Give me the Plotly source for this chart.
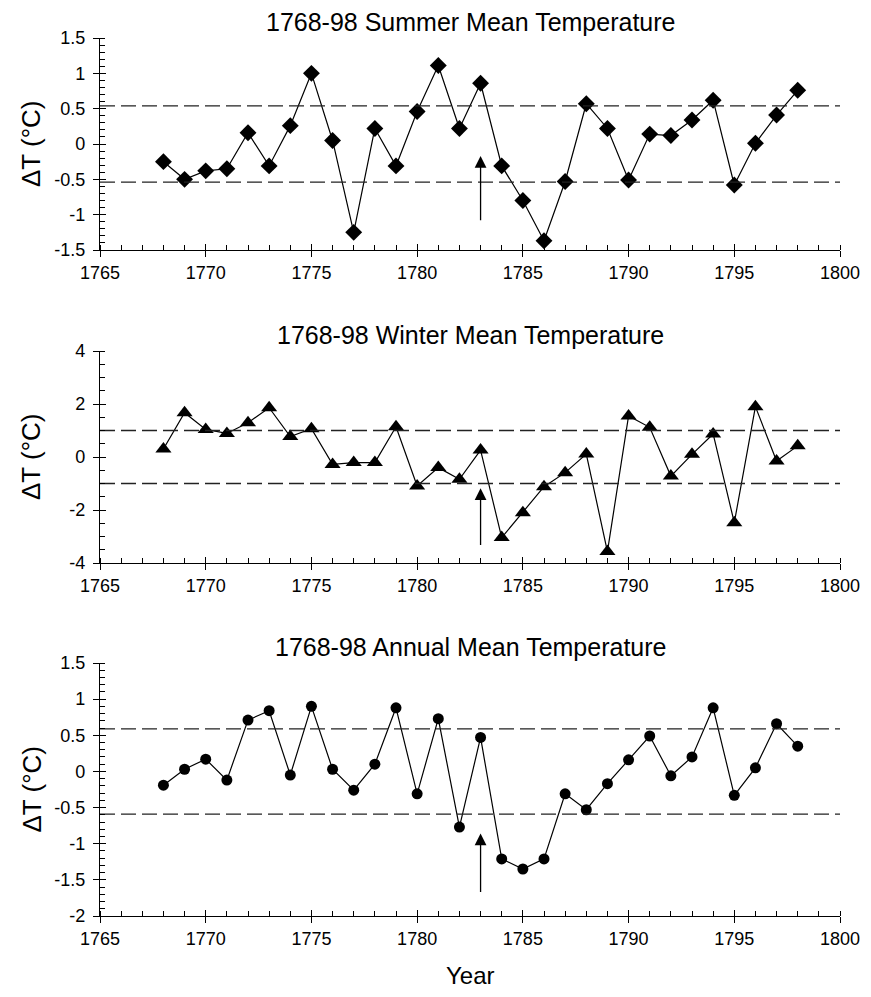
import plotly.graph_objects as go

years = list(range(1768, 1799))

summer = [-0.25, -0.5, -0.38, -0.35, 0.16, -0.31, 0.26, 1.0, 0.05, -1.25,
          0.22, -0.31, 0.46, 1.11, 0.22, 0.86, -0.31, -0.80, -1.37, -0.53,
          0.57, 0.22, -0.51, 0.14, 0.12, 0.34, 0.62, -0.58, 0.01, 0.41, 0.76]
winter = [0.3, 1.67, 1.04, 0.89, 1.29, 1.86, 0.77, 1.07, -0.28, -0.21,
          -0.21, 1.14, -1.09, -0.40, -0.84, 0.26, -3.04, -2.10, -1.12, -0.59,
          0.11, -3.57, 1.55, 1.12, -0.72, 0.10, 0.87, -2.48, 1.90, -0.15, 0.42]
annual = [-0.19, 0.03, 0.17, -0.12, 0.71, 0.84, -0.05, 0.90, 0.03, -0.26,
          0.10, 0.88, -0.31, 0.73, -0.77, 0.47, -1.21, -1.35, -1.21, -0.31,
          -0.53, -0.17, 0.16, 0.49, -0.06, 0.20, 0.88, -0.33, 0.05, 0.66, 0.35]

titles = ["1768-98 Summer Mean Temperature",
          "1768-98 Winter Mean Temperature",
          "1768-98 Annual Mean Temperature"]
thresholds = [0.54, 1.0, 0.59]
arrow_year = 1783
arrow_tip = [-0.17, -1.18, -0.86]
arrow_tail = [-1.1, -3.38, -1.69]

x_range = [1765, 1800]
x_ticks = [1765, 1770, 1775, 1780, 1785, 1790, 1795, 1800]
x_ticktext = ["1765", "1770", "1775", "1780", "1785", "1790", "1795", "1800"]

y_ranges = [[-1.5, 1.5], [-4, 4], [-2, 1.5]]
y_ticks = [[-1.5, -1, -0.5, 0, 0.5, 1, 1.5],
           [-4, -2, 0, 2, 4],
           [-2, -1.5, -1, -0.5, 0, 0.5, 1, 1.5]]
y_ticktext = [["-1.5", "-1", "-0.5", "0", "0.5", "1", "1.5"],
              ["-4", "-2", "0", "2", "4"],
              ["-2", "-1.5", "-1", "-0.5", "0", "0.5", "1", "1.5"]]
y_minor = [0.1, 0.5, 0.1]

series = [summer, winter, annual]
symbols = ["diamond", "triangle-up", "circle"]
msizes = [13, 14, 11]

# page offset from default body margin
OFF = 8
W, H = 871 - OFF, 997 - OFF
ML, MR = 100 - OFF, 31
MT = 38 - OFF
MB = H - (916 - OFF)
ph = H - MT - MB
px_domains = [(38, 250), (351, 563), (663, 916)]
domains = [[1 - (b - OFF - MT) / ph, 1 - (t - OFF - MT) / ph] for t, b in px_domains]
pw = W - ML - MR

FONT = "Liberation Sans, Arial, Helvetica, sans-serif"

fig = go.Figure()
layout = dict(
    width=W, height=H,
    margin=dict(l=ML, r=MR, t=MT, b=MB, autoexpand=False),
    paper_bgcolor="white", plot_bgcolor="white",
    showlegend=False,
    font=dict(family=FONT, size=18, color="black"),
)
annotations = []

for i in range(3):
    n = i + 1
    no = i + 4
    xa = "x" if n == 1 else f"x{n}"
    ya = "y" if n == 1 else f"y{n}"
    xo, yo = f"x{no}", f"y{no}"
    for s in (1, -1):
        fig.add_trace(go.Scatter(
            x=x_range, y=[s * thresholds[i]] * 2, xaxis=xo, yaxis=yo,
            mode="lines", line=dict(color="#222", width=1.3, dash="15px,6px"),
            hoverinfo="skip"))
    fig.add_trace(go.Scatter(
        x=years, y=series[i], xaxis=xa, yaxis=ya,
        mode="lines+markers",
        line=dict(color="black", width=1.2),
        marker=dict(symbol=symbols[i], size=msizes[i], color="black")))

    common_x = dict(range=x_range, tickvals=x_ticks, ticktext=x_ticktext,
                    showgrid=False, zeroline=False, fixedrange=True)
    common_y = dict(range=y_ranges[i], tickvals=y_ticks[i], ticktext=y_ticktext[i],
                    showgrid=False, zeroline=False, fixedrange=True)
    layout[f"xaxis{'' if n == 1 else n}"] = dict(
        **common_x, anchor=ya, domain=[0, 1],
        showline=True, linecolor="black", linewidth=1.3,
        ticks="outside", ticklen=6, tickwidth=1.3, tickcolor="black",
        tickfont=dict(size=18, family=FONT, color="black"),
        minor=dict(dtick=1, ticks="inside", ticklen=5, tickwidth=1.1,
                   tickcolor="black", showgrid=False))
    layout[f"yaxis{'' if n == 1 else n}"] = dict(
        **common_y, anchor=xa, domain=domains[i],
        showline=True, linecolor="black", linewidth=1.3,
        ticks="outside", ticklen=6, tickwidth=1.3, tickcolor="black",
        ticklabelstandoff=4,
        tickfont=dict(size=18, family=FONT, color="black"),
        minor=dict(dtick=y_minor[i], ticks="inside", ticklen=5, tickwidth=1.1,
                   tickcolor="black", showgrid=False))
    layout[f"xaxis{no}"] = dict(
        **common_x, overlaying=xa, anchor=yo,
        showline=False, showticklabels=False,
        ticks="inside", ticklen=6, tickwidth=1.3, tickcolor="black")
    layout[f"yaxis{no}"] = dict(
        **common_y, overlaying=ya, anchor=xo,
        showline=False, showticklabels=False,
        ticks="inside", ticklen=6, tickwidth=1.3, tickcolor="black")

    annotations.append(dict(
        text=titles[i], xref="paper", yref="paper", x=0.5, y=domains[i][1],
        xanchor="center", yanchor="bottom", yshift=0, showarrow=False,
        font=dict(size=25, family=FONT, color="black")))
    annotations.append(dict(
        text="ΔT (°C)", xref="paper", yref="paper",
        x=(31 - OFF - ML) / pw, y=(domains[i][0] + domains[i][1]) / 2,
        xanchor="center", yanchor="middle", textangle=-90, showarrow=False,
        font=dict(size=26, family=FONT, color="black")))
    annotations.append(dict(
        text="", x=arrow_year, y=arrow_tip[i], xref=xa, yref=ya,
        ax=arrow_year, ay=arrow_tail[i], axref=xa, ayref=ya,
        showarrow=True, arrowhead=2, arrowsize=1.8, arrowwidth=1.3,
        arrowcolor="black"))

annotations.append(dict(
    text="Year", xref="paper", yref="paper", x=0.5, y=0, yshift=-59,
    xanchor="center", yanchor="middle", showarrow=False,
    font=dict(size=24, family=FONT, color="black")))

layout["annotations"] = annotations
fig.update_layout(**layout)
fig.write_html("out.html")
